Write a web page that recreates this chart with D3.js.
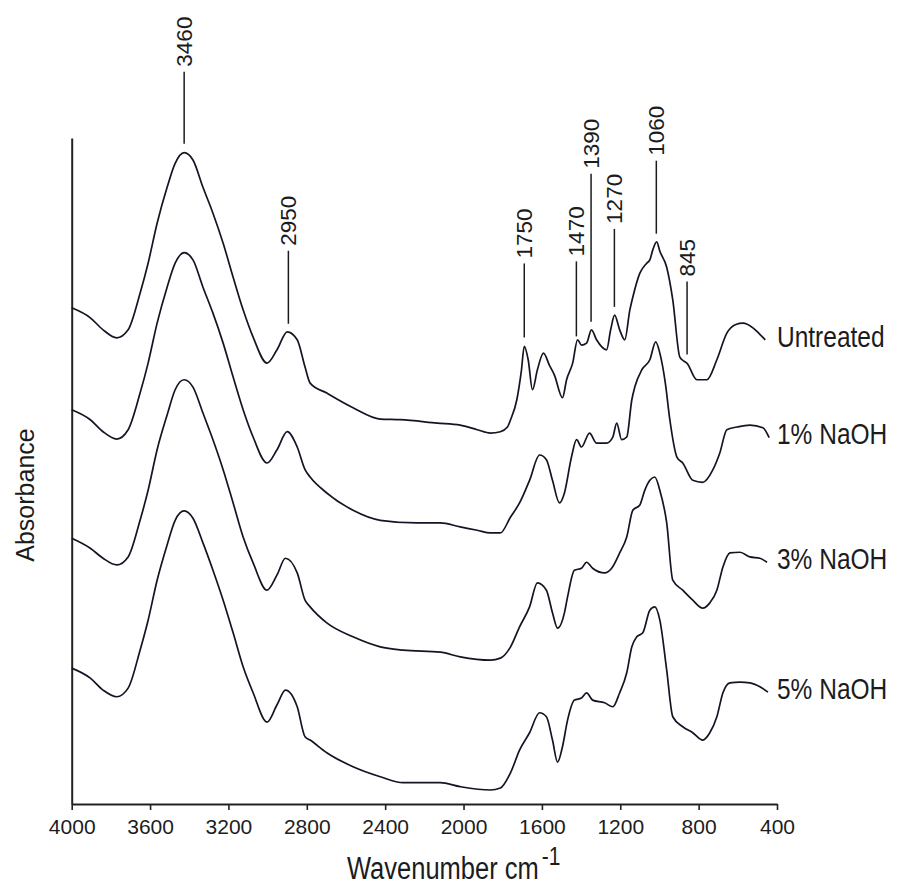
<!DOCTYPE html>
<html>
<head>
<meta charset="utf-8">
<script src="https://cdn.jsdelivr.net/npm/d3@7"></script>
<style>
body { margin: 0; background: #fff; }
svg text { font-family: "Liberation Sans", Arial, sans-serif; fill: #1c1c1c; }
</style>
</head>
<body>
<svg id="chart" width="899" height="888"></svg>
<script>
/* FTIR spectra, stacked with offsets (wavenumber, absorbance in arbitrary units) */
const seriesNames = ["Untreated", "1% NaOH", "3% NaOH", "5% NaOH"]

const untreated = [
  [4000,74.5],[3905,73.0],[3840,71.2],[3770,70.0],[3712,71.2],[3651,76.7],[3610,81.2],[3564,87.2],
  [3513,92.6],[3472,96.2],[3426,97.8],[3381,96.7],[3330,92.6],[3279,88.7],[3227,84.2],[3176,79.1],
  [3125,74.2],[3074,70.1],[3003,66.2],[2952,68.2],[2900,70.9],[2849,69.7],[2809,65.6],[2783,63.2],
  [2698,61.7],[2564,59.5],[2425,57.8],[2323,57.7],[2134,57.2],[2017,56.9],[1930,56.2],[1863,55.7],
  [1812,55.9],[1776,56.6],[1760,57.7],[1728,60.7],[1705,65.0],[1690,68.7],[1670,66.7],[1648,62.2],
  [1623,65.2],[1592,67.7],[1562,65.9],[1536,64.4],[1495,61.0],[1474,63.7],[1443,66.2],[1418,69.7],
  [1398,68.9],[1372,69.2],[1347,71.2],[1321,69.7],[1270,68.2],[1249,71.2],[1229,73.4],[1203,71.2],
  [1177,69.7],[1151,74.2],[1136,76.1],[1100,79.7],[1065,81.2],[1049,81.7],[1034,83.2],[1014,84.4],
  [998,83.0],[963,80.6],[932,75.7],[896,67.1],[875,66.5],[860,66.2],[809,63.7],[758,63.7],
  [707,66.7],[656,70.7],[610,72.0],[574,72.2],[523,71.5],[490,70.6],[460,69.7]
]

const naoh1 = [
  [4000,59.2],[3905,57.7],[3840,55.9],[3770,54.8],[3712,56.2],[3651,61.7],[3610,66.2],[3564,72.2],
  [3513,77.6],[3472,81.2],[3426,82.8],[3381,81.7],[3330,77.6],[3279,73.7],[3227,69.2],[3176,64.1],
  [3125,59.2],[3074,55.1],[3003,51.2],[2952,53.2],[2900,55.9],[2849,53.6],[2809,50.2],[2783,49.1],
  [2698,46.7],[2564,44.1],[2425,42.6],[2238,42.2],[2119,42.2],[2017,41.6],[1930,41.1],[1863,40.7],
  [1812,40.7],[1760,43.1],[1714,45.2],[1663,48.6],[1612,52.4],[1577,51.7],[1546,48.6],[1510,45.2],
  [1485,46.7],[1449,52.1],[1423,54.7],[1398,53.6],[1357,55.7],[1321,54.2],[1270,54.2],[1238,55.1],
  [1218,57.2],[1193,54.7],[1167,55.1],[1141,60.7],[1126,62.6],[1090,65.2],[1049,66.7],[1019,69.4],
  [998,67.7],[970,63.2],[947,57.7],[911,52.1],[881,51.2],[830,48.6],[779,48.3],[727,50.2],
  [692,52.7],[656,56.2],[605,56.6],[538,56.9],[472,56.5],[440,55.0]
]

const naoh3 = [
  [4000,39.9],[3905,38.4],[3840,36.9],[3770,35.9],[3712,37.1],[3651,42.6],[3610,47.1],[3564,53.2],
  [3513,58.4],[3472,62.2],[3426,63.7],[3381,62.6],[3330,58.7],[3279,54.7],[3227,50.2],[3176,45.2],
  [3125,40.1],[3074,36.2],[3003,32.1],[2952,34.4],[2909,36.9],[2849,34.7],[2809,30.6],[2783,29.6],
  [2698,27.2],[2564,25.1],[2425,23.6],[2308,23.1],[2119,22.8],[2017,22.1],[1863,21.6],[1812,21.9],
  [1760,23.6],[1714,26.6],[1663,29.6],[1623,33.2],[1577,32.1],[1546,28.7],[1520,26.4],[1485,28.7],
  [1469,31.1],[1434,35.1],[1398,35.4],[1372,36.3],[1341,35.4],[1280,34.7],[1244,35.4],[1203,37.7],
  [1167,40.1],[1136,44.1],[1100,44.9],[1075,47.1],[1049,48.6],[1024,49.1],[998,47.1],[963,42.2],
  [932,33.6],[881,32.1],[830,30.6],[779,29.4],[743,30.2],[707,32.1],[676,35.6],[640,37.7],
  [589,37.8],[538,37.1],[487,36.9],[451,36.3]
]

const naoh5 = [
  [4000,20.4],[3905,18.9],[3840,17.1],[3770,16.1],[3712,17.4],[3651,23.1],[3610,27.6],[3564,33.6],
  [3513,38.9],[3472,42.6],[3426,44.0],[3381,42.9],[3330,39.2],[3279,35.1],[3227,30.6],[3176,25.7],
  [3125,20.6],[3074,16.7],[3003,12.3],[2952,14.9],[2909,17.1],[2849,14.6],[2809,10.1],[2783,9.6],
  [2698,7.7],[2564,5.6],[2425,4.1],[2308,3.2],[2119,3.2],[2017,2.6],[1863,2.1],[1812,2.4],
  [1760,4.7],[1714,8.1],[1663,10.7],[1612,13.7],[1577,13.1],[1546,9.6],[1520,6.3],[1495,8.6],
  [1469,12.6],[1434,15.6],[1398,15.9],[1372,16.7],[1341,15.6],[1280,15.2],[1238,14.6],[1203,16.7],
  [1167,19.7],[1141,23.6],[1116,25.1],[1085,25.7],[1049,29.1],[1024,29.6],[998,27.6],[963,20.1],
  [932,13.1],[881,11.6],[830,10.7],[779,9.6],[743,10.7],[707,13.1],[676,16.7],[640,18.2],
  [589,18.3],[538,18.2],[487,17.6],[446,16.8]
]

const xTicks = [4000, 3600, 3200, 2800, 2400, 2000, 1600, 1200, 800, 400]

// peak annotations: label text and where the marker sits on the drawn axis
const peakLabels = ["3460", "2950", "1750", "1470", "1390", "1270", "1060", "845"]
const peakPos = [3426, 2894, 1690, 1424, 1349, 1230, 1016, 859]

const series = [untreated, naoh1, naoh3, naoh5]

/* layout */
const markLen = [72, 73, 74, 75, 148, 78, 73, 73]

const x = d3.scaleLinear().domain([4000, 400]).range([71.7, 777])
const y = d3.scaleLinear().domain([0, 100]).range([804, 138])

const svg = d3.select("#chart")

svg.append("rect").attr("width", 899).attr("height", 888).attr("fill", "#fff")

// axes
const xAxis = svg.append("g")
    .attr("transform", "translate(0," + y(0) + ")")
    .call(d3.axisBottom(x).tickValues(xTicks).tickSize(6).tickSizeOuter(0).tickPadding(9).tickFormat(d3.format("d")))
xAxis.select(".domain").attr("stroke", "#222").attr("stroke-width", 2)
xAxis.selectAll(".tick line").attr("stroke", "#222").attr("stroke-width", 1.6)
xAxis.selectAll(".tick text").attr("font-size", 21).attr("fill", "#1c1c1c")

const yAxis = svg.append("g")
    .attr("transform", "translate(" + x(4000) + ",0)")
    .call(d3.axisLeft(y).tickValues([]).tickSizeOuter(0))
yAxis.select(".domain").attr("stroke", "#222").attr("stroke-width", 2)

// spectra
const line = d3.line()
    .x(d => x(d[0]))
    .y(d => y(d[1]))
    .curve(d3.curveMonotoneX)

svg.selectAll("path.spectrum")
    .data(series)
    .enter()
    .append("path")
    .attr("class", "spectrum")
    .attr("d", line)
    .attr("fill", "none")
    .attr("stroke", "#141424")
    .attr("stroke-width", 1.7)
    .attr("stroke-linejoin", "round")

// series labels at the right end of each trace
svg.selectAll("text.series")
    .data(series)
    .enter()
    .append("text")
    .attr("class", "series")
    .attr("transform", d => "translate(" + x(400) + "," + (y(d[d.length - 1][1]) - 3) + ") scale(1,1.2)")
    .attr("dominant-baseline", "central")
    .attr("font-size", 24.5)
    .text((d, i) => seriesNames[i])

// peak markers on the untreated trace
const onTop = d3.scaleLinear()
    .domain(untreated.map(d => d[0]))
    .range(untreated.map(d => d[1]))

const marks = svg.selectAll("g.peak")
    .data(peakPos)
    .enter()
    .append("g")
    .attr("class", "peak")
    .attr("transform", d => "translate(" + x(d) + ",0)")

marks.append("line")
    .attr("y1", d => y(onTop(d)) - 9)
    .attr("y2", (d, i) => y(onTop(d)) - 9 - markLen[i])
    .attr("stroke", "#1c1c1c")
    .attr("stroke-width", 1.5)

marks.append("text")
    .attr("transform", (d, i) => "translate(0," + (y(onTop(d)) - 14 - markLen[i]) + ") rotate(-90)")
    .attr("dominant-baseline", "central")
    .attr("font-size", 22.5)
    .text((d, i) => peakLabels[i])

// axis titles
const xTitle = svg.append("text")
    .attr("transform", "translate(347,879) scale(1,1.25)")
    .attr("font-size", 25.5)
xTitle.append("tspan").text("Wavenumber cm")
xTitle.append("tspan").attr("dx", 3).attr("dy", -11).attr("font-size", 21).text("-1")

svg.append("text")
    .attr("transform", "translate(25,495) rotate(-90)")
    .attr("text-anchor", "middle")
    .attr("dominant-baseline", "central")
    .attr("font-size", 25)
    .text("Absorbance")
</script>
</body>
</html>
